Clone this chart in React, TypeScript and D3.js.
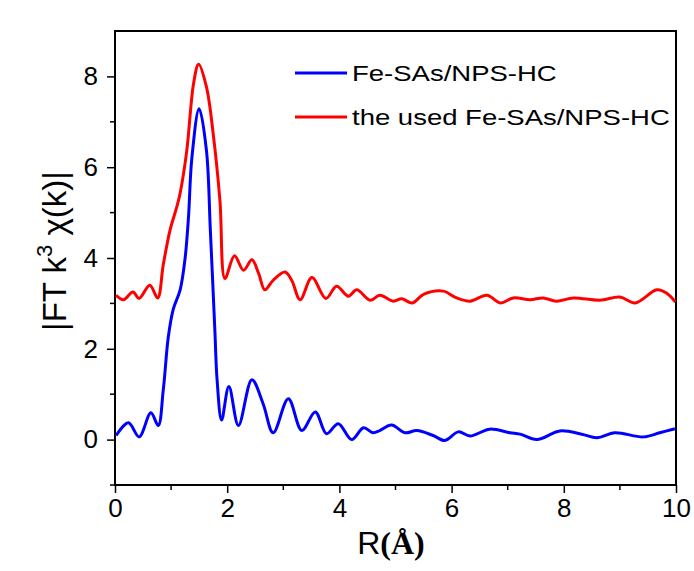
import React, { useEffect, useRef } from 'react';
import * as d3 from 'd3';

// R (Å) and |FT k3 chi(k)|
const blueR = [0.02, 0.24, 0.43, 0.64, 0.77, 0.86, 0.95, 1.04, 1.16, 1.25, 1.31, 1.37, 1.5, 1.63, 1.7, 1.78, 1.82, 1.9, 2.03, 2.2, 2.44, 2.64, 2.82, 3.09, 3.33, 3.57, 3.77, 3.98, 4.22, 4.43, 4.6, 4.72, 4.93, 5.17, 5.38, 5.67, 5.88, 6.12, 6.33, 6.68, 7.04, 7.22, 7.52, 7.93, 8.32, 8.59, 8.91, 9.42, 9.71, 9.98];
const blueV = [0.09, 0.37, 0.06, 0.59, 0.31, 1.09, 2.26, 2.88, 3.29, 4.0, 4.9, 6.2, 7.29, 6.37, 4.6, 2.41, 1.31, 0.43, 1.17, 0.31, 1.32, 0.79, 0.15, 0.9, 0.2, 0.61, 0.13, 0.35, 0.0, 0.26, 0.15, 0.2, 0.32, 0.15, 0.2, 0.09, -0.02, 0.17, 0.08, 0.23, 0.15, 0.12, 0.0, 0.19, 0.12, 0.04, 0.15, 0.06, 0.15, 0.24];

const redR = [0.02, 0.15, 0.32, 0.43, 0.62, 0.76, 0.86, 0.98, 1.1, 1.16, 1.28, 1.4, 1.49, 1.63, 1.75, 1.87, 1.96, 2.13, 2.29, 2.44, 2.56, 2.67, 2.82, 3.03, 3.15, 3.3, 3.51, 3.76, 3.95, 4.16, 4.31, 4.55, 4.72, 4.96, 5.11, 5.3, 5.5, 5.85, 6.09, 6.33, 6.63, 6.87, 7.1, 7.4, 7.63, 7.87, 8.17, 8.64, 9.0, 9.27, 9.66, 9.84, 9.99];
const redV = [3.18, 3.08, 3.25, 3.11, 3.4, 3.12, 3.85, 4.61, 5.12, 5.42, 6.37, 7.84, 8.27, 7.77, 6.74, 5.27, 3.55, 4.05, 3.73, 3.96, 3.66, 3.3, 3.51, 3.69, 3.51, 3.08, 3.57, 3.11, 3.38, 3.16, 3.3, 3.07, 3.18, 3.05, 3.1, 3.01, 3.2, 3.27, 3.12, 3.05, 3.18, 3.01, 3.12, 3.08, 3.12, 3.05, 3.12, 3.07, 3.14, 3.01, 3.3, 3.22, 3.03];

const seriesNames = ['Fe-SAs/NPS-HC', 'the used Fe-SAs/NPS-HC'];
const seriesColors = ['#0000ff', '#ff0000'];
const xTicks = [0, 2, 4, 6, 8, 10];
const yTicks = [0, 2, 4, 6, 8];

export default function App() {
  const ref = useRef<SVGSVGElement>(null);

  useEffect(() => {
    const svg = d3.select(ref.current);
    svg.selectAll('*').remove();

    const left = 115, right = 676, top = 31, bottom = 485;
    const x = d3.scaleLinear().domain([0, 10]).range([left, right]);
    const y = d3.scaleLinear().domain([-1, 9]).range([bottom, top]);
    const font = 'Arial, "Liberation Sans", sans-serif';

    // frame
    svg.append('rect')
      .attr('x', left).attr('y', top)
      .attr('width', right - left).attr('height', bottom - top)
      .attr('fill', 'none').attr('stroke', '#000').attr('stroke-width', 2);

    // minor ticks
    const minorX = d3.range(1, 10, 2);
    const minorY = d3.range(-1, 9, 2);
    svg.append('g').selectAll('line').data(minorX).join('line')
      .attr('x1', d => x(d)).attr('x2', d => x(d))
      .attr('y1', bottom).attr('y2', bottom + 5)
      .attr('stroke', '#000').attr('stroke-width', 1.5);
    svg.append('g').selectAll('line').data(minorY).join('line')
      .attr('y1', d => y(d)).attr('y2', d => y(d))
      .attr('x1', left).attr('x2', left - 5)
      .attr('stroke', '#000').attr('stroke-width', 1.5);

    // major ticks + labels
    const xAxis = svg.append('g')
      .attr('transform', `translate(0,${bottom})`)
      .call(d3.axisBottom(x).tickValues(xTicks).tickSize(8).tickPadding(6).tickFormat(d3.format('d')));
    xAxis.select('.domain').remove();
    xAxis.selectAll('line').attr('stroke-width', 1.5);
    xAxis.selectAll('text').attr('font-size', 26).attr('font-family', font).attr('fill', '#000');

    const yAxis = svg.append('g')
      .attr('transform', `translate(${left},0)`)
      .call(d3.axisLeft(y).tickValues(yTicks).tickSize(8).tickPadding(9).tickFormat(d3.format('d')));
    yAxis.select('.domain').remove();
    yAxis.selectAll('line').attr('stroke-width', 1.5);
    yAxis.selectAll('text').attr('font-size', 26).attr('font-family', font).attr('fill', '#000');

    // curves
    const line = d3.line<[number, number]>()
      .x(d => x(d[0])).y(d => y(d[1]))
      .curve(d3.curveCatmullRom.alpha(0.5));
    const series = [
      d3.zip(blueR, blueV) as [number, number][],
      d3.zip(redR, redV) as [number, number][],
    ];
    svg.append('g').selectAll('path').data(series).join('path')
      .attr('d', d => line(d))
      .attr('fill', 'none')
      .attr('stroke', (_, i) => seriesColors[i])
      .attr('stroke-width', 3)
      .attr('stroke-linejoin', 'round');

    // legend
    const legend = svg.append('g');
    seriesNames.forEach((name, i) => {
      const ly = 73 + i * 44;
      legend.append('line')
        .attr('x1', 295).attr('x2', 347).attr('y1', ly).attr('y2', ly)
        .attr('stroke', seriesColors[i]).attr('stroke-width', 3);
      legend.append('text')
        .attr('transform', `translate(352,${ly + 8}) scale(1.25,1)`)
        .attr('font-size', 22).attr('font-family', font)
        .text(name);
    });

    // x label
    const xl = svg.append('text')
      .attr('x', 391).attr('y', 554)
      .attr('text-anchor', 'middle')
      .attr('font-size', 32).attr('font-family', font);
    xl.append('tspan').text('R');
    xl.append('tspan')
      .attr('font-family', '"Liberation Serif", "Times New Roman", serif')
      .attr('font-weight', 'bold')
      .text('(Å)');

    // y label
    const yl = svg.append('text')
      .attr('transform', 'translate(66,251) rotate(-90)')
      .attr('text-anchor', 'middle')
      .attr('font-size', 33).attr('font-family', font);
    yl.append('tspan').text('|FT k');
    yl.append('tspan').attr('font-size', 22).attr('dy', -14).text('3');
    yl.append('tspan').attr('dy', 14).text(' χ(k)|');
  }, []);

  return (
    <svg
      ref={ref}
      width={694}
      height={571}
      style={{ position: 'absolute', left: 0, top: 0, background: '#fff' }}
    />
  );
}
